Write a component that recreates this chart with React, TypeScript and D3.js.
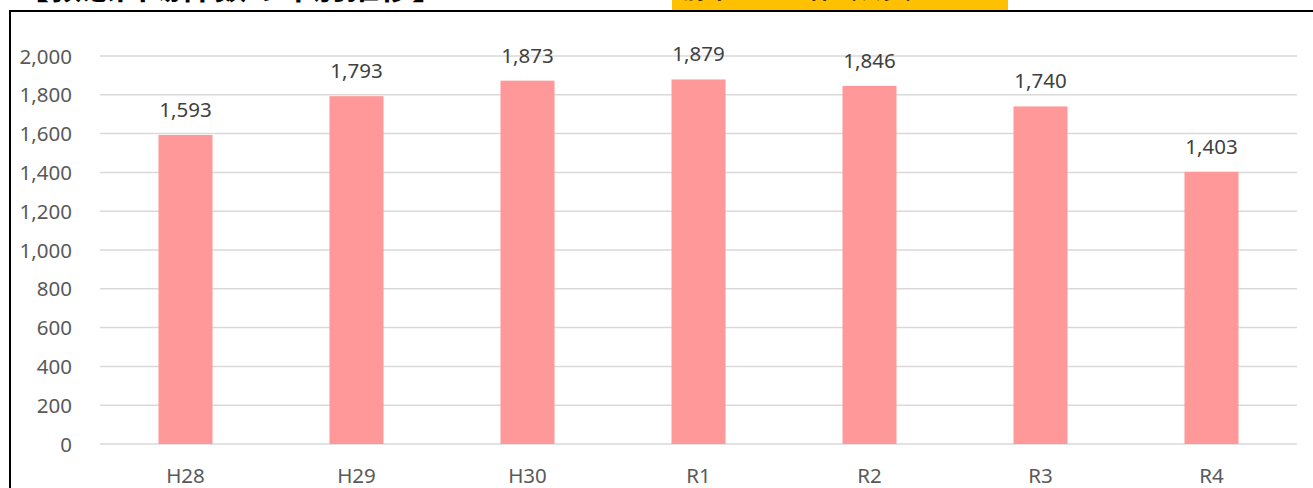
import { useMemo } from 'react';
import * as d3 from 'd3';

const years = ['H28', 'H29', 'H30', 'R1', 'R2', 'R3', 'R4'];
const counts = [1593, 1793, 1873, 1879, 1846, 1740, 1403];
const yTicks = [0, 200, 400, 600, 800, 1000, 1200, 1400, 1600, 1800, 2000];

const titleText = '【救急出場件数の年別推移】';
const noteText = '前年比 ‐337件（減少）';

export default function App() {
    const width = 1313;
    const height = 488;
    const plotLeft = 100;
    const plotRight = 1297;
    const plotTop = 56;
    const plotBottom = 444;
    const font = '"Noto Sans", "Noto Sans CJK JP", sans-serif';

    const { x, y } = useMemo(() => {
        const x = d3.scaleBand<string>()
            .domain(years)
            .range([plotLeft, plotRight])
            .paddingInner(0.684)
            .paddingOuter(0.342);
        const y = d3.scaleLinear()
            .domain([0, 2000])
            .range([plotBottom, plotTop]);
        return { x, y };
    }, []);

    const fmt = d3.format(',');
    const xCenter = (d: string) => (x(d) ?? 0) + x.bandwidth() / 2;

    return (
        <div style={{ position: 'absolute', left: 0, top: 0 }}>
            <svg width={width} height={height} style={{ display: 'block', background: 'white' }}>
                {/* header, cut off by the top edge */}
                <text x={16} y={-1.5} fontSize={33} fontWeight="bold" fill="#000" fontFamily={font}>{titleText}</text>
                <rect x={672} y={0} width={336} height={10} fill="#FFC000" />
                <text x={682} y={-2} fontSize={24} fontWeight="bold" fill="#000" fontFamily={font}>{noteText}</text>

                {/* frame */}
                <line x1={9} x2={width} y1={11} y2={11} stroke="#000" strokeWidth={2} />
                <line x1={10} x2={10} y1={10} y2={height} stroke="#000" strokeWidth={2} />

                {/* grid */}
                <g>
                    {yTicks.map((t) => (
                        <line key={t} x1={plotLeft} x2={plotRight} y1={y(t)} y2={y(t)} stroke="#d9d9d9" strokeWidth={1.5} />
                    ))}
                </g>
                <g>
                    {yTicks.map((t) => (
                        <text key={t} x={72} y={y(t) + 7.5} fontSize={20.5} fill="#595959" textAnchor="end" fontFamily={font}>{fmt(t)}</text>
                    ))}
                </g>

                {/* bars */}
                <g>
                    {counts.map((v, i) => (
                        <rect key={years[i]} x={x(years[i])} y={y(v)} width={x.bandwidth()} height={y(0) - y(v)} fill="#FF9999" />
                    ))}
                </g>
                <g>
                    {counts.map((v, i) => (
                        <text key={years[i]} x={xCenter(years[i])} y={y(v) - 18} fontSize={20.5} fill="#404040" textAnchor="middle" fontFamily={font}>{fmt(v)}</text>
                    ))}
                </g>

                {/* x axis labels */}
                <g>
                    {years.map((d) => (
                        <text key={d} x={xCenter(d)} y={483} fontSize={20.5} fill="#595959" textAnchor="middle" fontFamily={font}>{d}</text>
                    ))}
                </g>
            </svg>
        </div>
    );
}
